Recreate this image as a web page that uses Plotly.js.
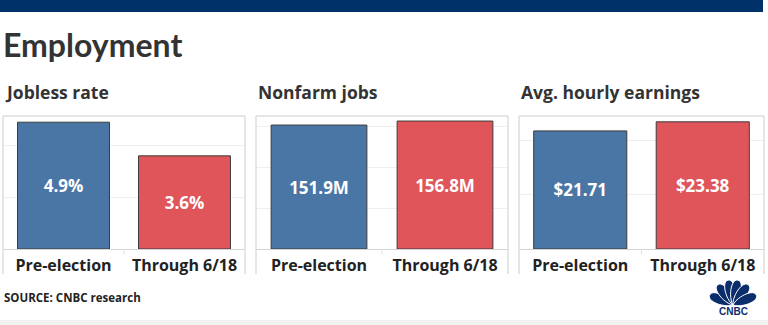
<!DOCTYPE html>
<html><head><meta charset="utf-8">
<script src="https://cdn.plot.ly/plotly-3.0.1.min.js"></script>
<style>html,body{margin:0;padding:0;background:#fff;}#chart{width:768px;height:325px;}</style>
</head><body><div id="chart"></div>
<script>
// ---- data ----
const categories = ['Pre-election', 'Through 6/18'];
const joblessRate = [4.9, 3.6];
const joblessLabels = ['4.9%', '3.6%'];
const nonfarmJobs = [151.9, 156.8];
const nonfarmLabels = ['151.9M', '156.8M'];
const hourlyEarnings = [21.71, 23.38];
const earningsLabels = ['$21.71', '$23.38'];
const panelTitles = ['Jobless rate', 'Nonfarm jobs', 'Avg. hourly earnings'];
const mainTitle = 'Employment';
const sourceText = 'SOURCE: CNBC research';

// ---- layout helpers ----
const W = 768, H = 325;
const px = x => x / W;
const py = y => 1 - y / H;
const barColors = ['#4a76a6', '#e0555a'];
const FONT = 'Open Sans, Lato, sans-serif';

const panels = [
  {x0: 3, x1: 245, vals: joblessRate, labels: joblessLabels, range: [0, 5.14], dtick: 2},
  {x0: 256, x1: 508, vals: nonfarmJobs, labels: nonfarmLabels, range: [0, 163], dtick: 50},
  {x0: 519, x1: 764, vals: hourlyEarnings, labels: earningsLabels, range: [0, 24.45], dtick: 10}
];
const plotTop = 116, plotBottom = 249, boxBottom = 274;

const traces = [];
const layout = {
  width: W, height: H,
  margin: {l: 0, r: 0, t: 0, b: 0},
  paper_bgcolor: '#ffffff', plot_bgcolor: 'rgba(0,0,0,0)',
  showlegend: false,
  bargap: 0.24,
  shapes: [], annotations: []
};

panels.forEach((p, i) => {
  const n = i === 0 ? '' : String(i + 1);
  traces.push({
    type: 'bar', x: categories, y: p.vals,
    xaxis: 'x' + n, yaxis: 'y' + n,
    text: p.labels, texttemplate: '%{text}',
    textposition: 'inside', insidetextanchor: 'middle', textangle: 0,
    textfont: {family: FONT, size: 17, color: '#ffffff', weight: 'bold'},
    marker: {color: barColors, line: {color: '#3c3c3c', width: 1}},
    hoverinfo: 'skip', cliponaxis: false
  });
  layout['xaxis' + n] = {
    domain: [px(p.x0), px(p.x1)], anchor: 'y' + n,
    showline: true, linecolor: '#d4d4d4', linewidth: 1,
    showgrid: false, zeroline: false, ticks: '',
    tickfont: {family: FONT, size: 16, color: '#222', weight: 'bold'},
    ticklabelstandoff: 2, fixedrange: true
  };
  layout['yaxis' + n] = {
    domain: [py(plotBottom), py(plotTop)], anchor: 'x' + n,
    range: p.range, dtick: p.dtick, showticklabels: false,
    showgrid: true, gridcolor: '#efefef', gridwidth: 1,
    zeroline: false, showline: false, ticks: '', fixedrange: true
  };
  const lc = {color: '#dedede', width: 1.5};
  layout.shapes.push(
    {type: 'line', xref: 'paper', yref: 'paper', x0: px(p.x0), x1: px(p.x0), y0: py(boxBottom), y1: py(plotTop), line: lc},
    {type: 'line', xref: 'paper', yref: 'paper', x0: px(p.x0), x1: px(p.x1), y0: py(plotTop), y1: py(plotTop), line: lc},
    {type: 'line', xref: 'paper', yref: 'paper', x0: px(p.x1), x1: px(p.x1), y0: py(boxBottom), y1: py(plotTop), line: lc},
    {type: 'line', xref: 'paper', yref: 'paper', x0: px((p.x0 + p.x1) / 2), x1: px((p.x0 + p.x1) / 2), y0: py(plotBottom), y1: py(plotBottom + 6), line: {color: '#e4e4e4', width: 1}}
  );
  layout.annotations.push({
    xref: 'paper', yref: 'paper', x: px(p.x0), y: py(92),
    xanchor: 'left', yanchor: 'middle', showarrow: false,
    text: panelTitles[i],
    font: {family: FONT, size: 17.5, color: '#333', weight: 'bold'}
  });
});

// top navy band
layout.shapes.push({type: 'rect', xref: 'paper', yref: 'paper', x0: 0, x1: px(763), y0: py(12), y1: 1, fillcolor: '#003168', line: {width: 0}});
// bottom light strip
layout.shapes.push({type: 'rect', xref: 'paper', yref: 'paper', x0: 0, x1: 1, y0: 0, y1: py(320), fillcolor: '#f1f1f1', line: {width: 0}});

// title & source
layout.annotations.push({
  xref: 'paper', yref: 'paper', x: px(1), y: py(44), xanchor: 'left', yanchor: 'middle',
  showarrow: false, text: mainTitle,
  font: {family: 'Lato, Open Sans, sans-serif', size: 32, color: '#333', weight: 'bold'}
});
layout.annotations.push({
  xref: 'paper', yref: 'paper', x: px(2), y: py(297), xanchor: 'left', yanchor: 'middle',
  showarrow: false, text: sourceText,
  font: {family: FONT, size: 11.5, color: '#222', weight: 'bold'}
});

// CNBC peacock logo (decorative)
const featherAngles = [157, 127, 101, 79, 53, 23];
featherAngles.forEach(a => {
  const t = a * Math.PI / 180, L = 23, w = 7;
  const d = [Math.cos(t), Math.sin(t)], nn = [-Math.sin(t), Math.cos(t)];
  const pt = (k, m) => (k * L * d[0] + m * w * nn[0]).toFixed(2) + ',' + (k * L * d[1] + m * w * nn[1]).toFixed(2);
  const path = 'M 0,0 C ' + pt(0.3, 0.9) + ' ' + pt(1.12, 1.0) + ' ' + pt(1.1, 0) +
               ' C ' + pt(1.12, -1.0) + ' ' + pt(0.3, -0.9) + ' 0,0 Z';
  layout.shapes.push({
    type: 'path', xref: 'paper', yref: 'paper', xsizemode: 'pixel', ysizemode: 'pixel',
    xanchor: px(733), yanchor: py(305), path: path,
    fillcolor: '#0c2d6b', line: {color: '#ffffff', width: 1}
  });
});
layout.annotations.push({
  xref: 'paper', yref: 'paper', x: px(733), y: py(311), xanchor: 'center', yanchor: 'middle',
  showarrow: false, text: 'CNBC',
  font: {family: 'Liberation Sans, Arial, sans-serif', size: 10, color: '#0c2d6b', weight: 'bold'}
});

Plotly.newPlot('chart', traces, layout, {displayModeBar: false, staticPlot: true});
</script>
</body></html>
